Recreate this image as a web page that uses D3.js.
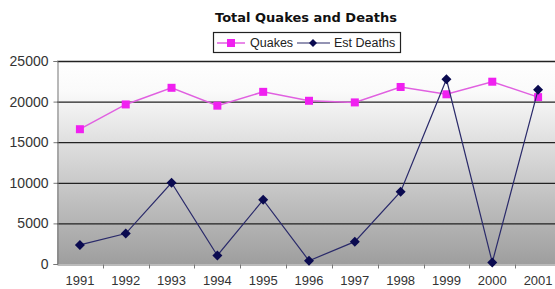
<!DOCTYPE html>
<html>
<head>
<meta charset="utf-8">
<script src="https://cdn.jsdelivr.net/npm/d3@7"></script>
<style>
  body { margin: 0; background: #fff; }
  svg text { font-family: "Liberation Sans", Arial, sans-serif; }
</style>
</head>
<body>
<svg id="chart"></svg>
<script>
// chart data
var years = ['1991', '1992', '1993', '1994', '1995', '1996', '1997', '1998', '1999', '2000', '2001'];
var quakes = [16600, 19650, 21700, 19500, 21200, 20100, 19900, 21800, 20900, 22450, 20550];
var deaths = [2350, 3750, 10000, 1050, 7900, 400, 2750, 8900, 22750, 200, 21450];
var yTicks = [0, 5000, 10000, 15000, 20000, 25000];

(function () {
    var width = 555, height = 289;
    var left = 57, right = 561, top = 61, bottom = 264;

    var svg = d3.select('#chart').attr('width', width).attr('height', height);

    var x = d3.scaleBand().domain(years).range([left, right]);
    var y = d3.scaleLinear().domain([0, 25000]).range([bottom, top]);

    // gray gradient behind the plot
    var grad = svg.append('defs').append('linearGradient')
        .attr('id', 'bg').attr('x1', 0).attr('y1', 0).attr('x2', 0).attr('y2', 1);
    grad.append('stop').attr('offset', '0%').attr('stop-color', '#ffffff');
    grad.append('stop').attr('offset', '15%').attr('stop-color', '#fafafa');
    grad.append('stop').attr('offset', '100%').attr('stop-color', '#9e9e9e');

    svg.append('rect')
        .attr('x', left).attr('y', top)
        .attr('width', right - left).attr('height', bottom - top)
        .attr('fill', 'url(#bg)');

    // gridlines
    svg.selectAll('.grid')
        .data(yTicks.slice(1))
        .enter().append('line')
            .attr('x1', left).attr('x2', right)
            .attr('y1', function (d) { return y(d) + 0.5; })
            .attr('y2', function (d) { return y(d) + 0.5; })
            .attr('stroke', '#222').attr('stroke-width', 1.3);

    // y axis
    var yAxis = svg.append('g')
        .attr('transform', 'translate(' + (left + 0.5) + ',0)')
        .call(d3.axisLeft(y).tickValues(yTicks).tickSize(4).tickPadding(5).tickFormat(d3.format('d')));
    yAxis.select('.domain').attr('stroke', '#777');
    yAxis.selectAll('.tick line').attr('stroke', '#777');
    yAxis.selectAll('text').attr('font-size', 14).attr('fill', '#333');

    // x axis with ticks between categories
    var xAxis = svg.append('g')
        .attr('transform', 'translate(0,' + (bottom + 0.5) + ')')
        .call(d3.axisBottom(x).tickSize(0).tickPadding(11));
    xAxis.select('.domain').attr('stroke', '#777');
    xAxis.selectAll('text').attr('font-size', 13).attr('fill', '#333');
    xAxis.selectAll('.sep')
        .data(years.slice(1))
        .enter().append('line')
            .attr('x1', function (d) { return Math.round(x(d)) + 0.5; })
            .attr('x2', function (d) { return Math.round(x(d)) + 0.5; })
            .attr('y1', 0).attr('y2', 4)
            .attr('stroke', '#777');

    var cx = function (d, i) { return x(years[i]) + x.bandwidth() / 2; };

    // quakes series
    svg.append('path')
        .datum(quakes)
        .attr('fill', 'none').attr('stroke', '#e060e0').attr('stroke-width', 1.5)
        .attr('d', d3.line().x(cx).y(function (d) { return y(d); }));
    svg.selectAll('.q')
        .data(quakes)
        .enter().append('rect')
            .attr('x', function (d, i) { return cx(d, i) - 4; })
            .attr('y', function (d) { return y(d) - 4; })
            .attr('width', 8).attr('height', 8)
            .attr('fill', '#f020f0');

    // deaths series
    svg.append('path')
        .datum(deaths)
        .attr('fill', 'none').attr('stroke', '#2a2a6a').attr('stroke-width', 1.2)
        .attr('d', d3.line().x(cx).y(function (d) { return y(d); }));
    svg.selectAll('.dd')
        .data(deaths)
        .enter().append('path')
            .attr('transform', function (d, i) { return 'translate(' + cx(d, i) + ',' + y(d) + ')'; })
            .attr('d', 'M0,-5L5,0L0,5L-5,0Z')
            .attr('fill', '#0a0a50');

    // title
    svg.append('text')
        .attr('x', 306).attr('y', 22)
        .attr('text-anchor', 'middle')
        .style('font-family', '"DejaVu Sans", Verdana, sans-serif')
        .attr('font-size', 13).attr('font-weight', 'bold').attr('fill', '#111')
        .text('Total Quakes and Deaths');

    // legend
    var lg = svg.append('g');
    lg.append('rect')
        .attr('x', 213.5).attr('y', 32.5).attr('width', 187).attr('height', 20)
        .attr('fill', '#fff').attr('stroke', '#222').attr('stroke-width', 1.2);
    lg.append('line').attr('x1', 217).attr('x2', 245).attr('y1', 43).attr('y2', 43)
        .attr('stroke', '#e060e0').attr('stroke-width', 1.5);
    lg.append('rect').attr('x', 227).attr('y', 39).attr('width', 8).attr('height', 8).attr('fill', '#f020f0');
    lg.append('text').attr('x', 250).attr('y', 47).attr('font-size', 12.5).attr('fill', '#222').text('Quakes');
    lg.append('line').attr('x1', 297).attr('x2', 330).attr('y1', 43).attr('y2', 43)
        .attr('stroke', '#2a2a6a').attr('stroke-width', 1.2);
    lg.append('path').attr('transform', 'translate(313,43)').attr('d', 'M0,-4L4,0L0,4L-4,0Z').attr('fill', '#0a0a50');
    lg.append('text').attr('x', 334).attr('y', 47).attr('font-size', 12.5).attr('fill', '#222').text('Est Deaths');
}());
</script>
</body>
</html>
